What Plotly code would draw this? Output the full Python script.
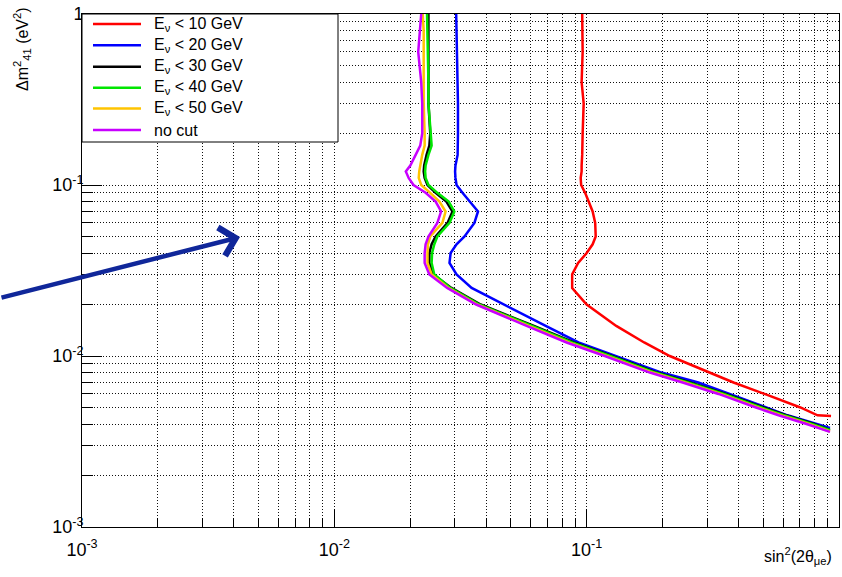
import plotly.graph_objects as go

# ---------------- data ----------------
Y_LEVELS = [1, 0.8, 0.6, 0.4, 0.3, 0.2, 0.17, 0.15, 0.13, 0.12, 0.11, 0.1,
            0.09, 0.08, 0.07, 0.06, 0.05, 0.045, 0.04, 0.035, 0.03, 0.025,
            0.02, 0.015, 0.012, 0.01, 0.008, 0.007, 0.006, 0.005, 0.0045, 0.004]

red_x = [0.0960, 0.0964, 0.0964, 0.0955, 0.0973, 0.0964, 0.0964, 0.0960, 0.0955,
         0.0955, 0.0947, 0.0951, 0.0986, 0.1018, 0.1056, 0.1081, 0.1086, 0.1056,
         0.1000, 0.0925, 0.0876, 0.0876, 0.1000, 0.131, 0.169, 0.2135, 0.305,
         0.382, 0.507, 0.703, 0.822, 0.93]
red_y = Y_LEVELS[:31] + [0.00446]

blue_x = [0.0304, 0.0305, 0.0305, 0.0308, 0.0309, 0.0309, 0.0309, 0.0308, 0.0302,
          0.0301, 0.0302, 0.0305, 0.0322, 0.0343, 0.0371, 0.0359, 0.0328, 0.0305,
          0.0289, 0.0286, 0.0305, 0.0350, 0.0473, 0.0688, 0.0928, 0.1315, 0.198,
          0.277, 0.369, 0.513, 0.625, 0.816, 0.921]
blue_y = Y_LEVELS + [0.00379]

black_x = [0.0236, 0.0236, 0.0236, 0.0236, 0.0236, 0.0240, 0.0238, 0.0232, 0.0227,
           0.0226, 0.0228, 0.0234, 0.0252, 0.0278, 0.0294, 0.0281, 0.0252, 0.0243,
           0.0238, 0.0238, 0.0247, 0.0291, 0.0380, 0.0618, 0.0891, 0.126, 0.190,
           0.257, 0.356, 0.502, 0.616, 0.796, 0.921]
black_y = Y_LEVELS + [0.0037]

green_x = [0.0233, 0.0234, 0.0234, 0.0236, 0.0236, 0.0240, 0.0243, 0.0236, 0.0230,
           0.0229, 0.0230, 0.0236, 0.0256, 0.0284, 0.0299, 0.0286, 0.0256, 0.0249,
           0.0244, 0.0243, 0.0249, 0.0288, 0.0375, 0.0607, 0.0875, 0.124, 0.187,
           0.252, 0.350, 0.492, 0.605, 0.781, 0.921]
green_y = Y_LEVELS + [0.00368]

yellow_x = [0.0224, 0.0226, 0.0226, 0.0226, 0.0226, 0.0228, 0.0228, 0.0223, 0.0219,
            0.0217, 0.0216, 0.0221, 0.0240, 0.0261, 0.0276, 0.0268, 0.0240, 0.0235,
            0.0234, 0.0234, 0.0243, 0.0283, 0.0368, 0.0590, 0.0850, 0.120, 0.182,
            0.245, 0.340, 0.478, 0.588, 0.759, 0.921]
yellow_y = Y_LEVELS + [0.00362]

purple_x = [0.0221, 0.0219, 0.0215, 0.0221, 0.0223, 0.0223, 0.0219, 0.0210, 0.0200,
            0.0192, 0.0197, 0.0206, 0.0230, 0.0252, 0.0265, 0.0256, 0.0236, 0.0230,
            0.0228, 0.0228, 0.0238, 0.0280, 0.0365, 0.0578, 0.0833, 0.118, 0.178,
            0.240, 0.333, 0.469, 0.576, 0.744, 0.921]
purple_y = Y_LEVELS + [0.0036]

SERIES_NAMES = ["E<sub>ν</sub> &lt; 10 GeV", "E<sub>ν</sub> &lt; 20 GeV",
                "E<sub>ν</sub> &lt; 30 GeV", "E<sub>ν</sub> &lt; 40 GeV",
                "E<sub>ν</sub> &lt; 50 GeV", "no cut"]
SERIES_COLORS = ["#ff0000", "#0000ff", "#000000", "#00e600", "#ffc400", "#c800ff"]
SERIES_X = [red_x, blue_x, black_x, green_x, yellow_x, purple_x]
SERIES_Y = [red_y, blue_y, black_y, green_y, yellow_y, purple_y]

MAJOR_TICKS = [0.001, 0.01, 0.1, 1]
MAJOR_LABELS = ["10<sup>-3</sup>", "10<sup>-2</sup>", "10<sup>-1</sup>", "1"]
MINOR_TICKS = [m * d for d in (0.001, 0.01, 0.1) for m in range(2, 10)]

# ---------------- layout geometry ----------------
W, H = 842, 577
L, R, T, B = 82, 3, 14, 50
PW, PH = W - L - R, H - T - B

def pxx(p):
    return (p - L) / PW

def pxy(p):
    return (H - B - p) / PH

FONT = "Liberation Sans, Arial, Helvetica, sans-serif"
GRID = "#111111"

fig = go.Figure()
for name, xs, ys, col in zip(SERIES_NAMES, SERIES_X, SERIES_Y, SERIES_COLORS):
    fig.add_trace(go.Scatter(x=xs, y=ys, mode="lines", name=name,
                             line=dict(color=col, width=2.5), showlegend=False,
                             hoverinfo="skip"))

def axis(major_len, minor_len, standoff):
    return dict(
        type="log", range=[-3, 0], showline=True, linecolor="black", linewidth=1,
        mirror=True, ticks="inside", ticklen=major_len, tickwidth=1, tickcolor="black",
        tickmode="array", tickvals=MAJOR_TICKS, ticktext=MAJOR_LABELS,
        showgrid=True, gridcolor=GRID, gridwidth=1, griddash="1px,2px",
        zeroline=False, ticklabelstandoff=standoff,
        tickfont=dict(family=FONT, size=18, color="black"),
        minor=dict(tickmode="array", tickvals=MINOR_TICKS, ticks="inside",
                   ticklen=minor_len, tickwidth=1, tickcolor="black",
                   showgrid=True, gridcolor=GRID, gridwidth=1, griddash="1px,2px"),
    )

shapes = []
annotations = []

# legend box (drawn manually to match reference geometry)
shapes.append(dict(type="rect", xref="paper", yref="paper",
                   x0=0, x1=pxx(338), y0=pxy(142), y1=1,
                   fillcolor="white", line=dict(color="black", width=1), layer="above"))
rows = [24, 45.3, 66.7, 87.7, 108.5, 130]
for name, col, ry in zip(SERIES_NAMES, SERIES_COLORS, rows):
    shapes.append(dict(type="line", xref="paper", yref="paper",
                       x0=pxx(93), x1=pxx(141), y0=pxy(ry), y1=pxy(ry),
                       line=dict(color=col, width=2.5), layer="above"))
    annotations.append(dict(xref="paper", yref="paper", x=pxx(152), y=pxy(ry),
                            xanchor="left", yanchor="middle", showarrow=False,
                            text=name, font=dict(family=FONT, size=16, color="black")))

# axis titles
annotations.append(dict(xref="paper", yref="paper", x=pxx(834), y=pxy(556),
                        xanchor="right", yanchor="middle", showarrow=False,
                        text="sin<sup>2</sup>(2θ<sub>μe</sub>)",
                        font=dict(family=FONT, size=16, color="black")))
annotations.append(dict(xref="paper", yref="paper", x=pxx(22), y=pxy(5),
                        xanchor="center", yanchor="top", showarrow=False, textangle=-90,
                        text="Δm<sup>2</sup><sub>41</sub> (eV<sup>2</sup>)",
                        font=dict(family=FONT, size=16, color="black")))

# navy arrow
annotations.append(dict(xref="paper", yref="paper", x=pxx(240), y=pxy(237),
                        axref="pixel", ayref="pixel", ax=-240, ay=61, text="",
                        showarrow=True, arrowhead=4, arrowsize=1.25, arrowwidth=4.5,
                        arrowcolor="#10279a", standoff=0))

fig.update_layout(
    width=W, height=H,
    margin=dict(l=L, r=R, t=T, b=B, pad=0),
    paper_bgcolor="white", plot_bgcolor="white",
    xaxis=axis(18, 9, 6),
    yaxis=axis(20, 11, -6),
    shapes=shapes, annotations=annotations,
    showlegend=False,
)

fig.write_html("out.html")
